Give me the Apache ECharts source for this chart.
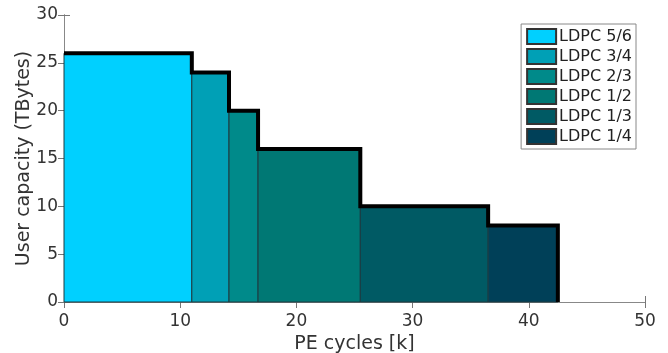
<!DOCTYPE html>
<html>
<head>
    <meta charset="utf-8">
    <title>User capacity vs PE cycles</title>
    <style>
        html, body { margin: 0; padding: 0; background: #fff; }
        #main { width: 668px; height: 353px; }
    </style>
</head>
<body>
<div id="main"></div>
<script src="https://cdn.jsdelivr.net/npm/echarts@6/dist/echarts.min.js"></script>
<script>
    // segment boundaries along PE cycles [k] and capacity of each code rate
    var edges = [0, 11, 14.2, 16.7, 25.5, 36.5, 42.5];
    var capacity = [26, 24, 20, 16, 10, 8];
    var codes = ['LDPC 5/6', 'LDPC 3/4', 'LDPC 2/3', 'LDPC 1/2', 'LDPC 1/3', 'LDPC 1/4'];
    var xTicks = [0, 10, 20, 30, 40, 50];
    var yTicks = [0, 5, 10, 15, 20, 25, 30];

    var colors = ['#00d0ff', '#00a0b6', '#008a8a', '#007874', '#005a64', '#004058'];
    var font = 'DejaVu Sans';

    var myChart = echarts.init(document.getElementById('main'));

    function rectItem(params, api) {
        var p0 = api.coord([api.value(0), api.value(2)]);
        var p1 = api.coord([api.value(1), 0]);
        return {
            type: 'rect',
            shape: {x: p0[0], y: p0[1], width: p1[0] - p0[0], height: p1[1] - p0[1]},
            style: {fill: api.visual('color'), stroke: '#1c3a40', lineWidth: 1}
        };
    }

    var series = [];
    for (var i = 0; i < codes.length; i++) {
        series.push({
            name: codes[i],
            type: 'custom',
            renderItem: rectItem,
            itemStyle: {color: colors[i], borderColor: '#333', borderWidth: 1},
            encode: {x: [0, 1], y: 2},
            data: [[edges[i], edges[i + 1], capacity[i]]],
            z: 2
        });
    }

    // black outline over the steps
    var outline = [];
    for (var j = 0; j < capacity.length; j++) {
        outline.push([edges[j], capacity[j]]);
        outline.push([edges[j + 1], capacity[j]]);
    }
    outline.push([edges[edges.length - 1], 0]);
    series.push({
        type: 'line',
        data: outline,
        symbol: 'none',
        lineStyle: {color: '#000', width: 4, join: 'miter'},
        z: 5,
        silent: true
    });

    var tickStyle = {show: true, inside: true, length: 6, lineStyle: {color: '#777'}};
    var mainLine = {show: true, lineStyle: {color: '#555', width: 1}};
    var sideLine = {show: true, lineStyle: {color: '#888', width: 1}};
    var labelStyle = {fontFamily: font, fontSize: 17, color: '#333'};
    var nameStyle = {fontFamily: font, fontSize: 19, color: '#333'};

    var option = {
        animation: false,
        grid: {left: 64, right: 23, top: 15, bottom: 51, containLabel: false, outerBoundsMode: 'none'},
        legend: {
            data: codes,
            orient: 'vertical',
            right: 32,
            top: 24,
            itemWidth: 29,
            itemHeight: 15,
            itemGap: 3,
            padding: [4, 4, 4, 5],
            borderColor: '#888',
            borderWidth: 1,
            backgroundColor: '#fff',
            icon: 'rect',
            textStyle: {fontFamily: font, fontSize: 16, color: '#222', padding: [0, 0, 0, -2]}
        },
        xAxis: [{
            type: 'value', min: 0, max: 50, interval: 10,
            name: 'PE cycles [k]', nameLocation: 'middle', nameGap: 30,
            nameTextStyle: nameStyle,
            axisLine: mainLine, axisTick: tickStyle, splitLine: {show: false},
            axisLabel: Object.assign({margin: 11, formatter: function (v) {
                return xTicks.indexOf(v) >= 0 ? v : '';
            }}, labelStyle)
        }, {
            type: 'value', min: 0, max: 50, interval: 10, position: 'top',
            axisLine: sideLine, axisTick: tickStyle, axisLabel: {show: false}, splitLine: {show: false}
        }],
        yAxis: [{
            type: 'value', min: 0, max: 30, interval: 5,
            name: 'User capacity (TBytes)', nameLocation: 'middle', nameGap: 30,
            nameMoveOverlap: false,
            nameTextStyle: nameStyle,
            axisLine: mainLine, axisTick: tickStyle, splitLine: {show: false},
            axisLabel: Object.assign({margin: 6, formatter: function (v) {
                return yTicks.indexOf(v) >= 0 ? v : '';
            }}, labelStyle)
        }, {
            type: 'value', min: 0, max: 30, interval: 5, position: 'right',
            axisLine: sideLine, axisTick: tickStyle, axisLabel: {show: false}, splitLine: {show: false}
        }],
        series: series
    };

    myChart.setOption(option);
</script>
</body>
</html>
